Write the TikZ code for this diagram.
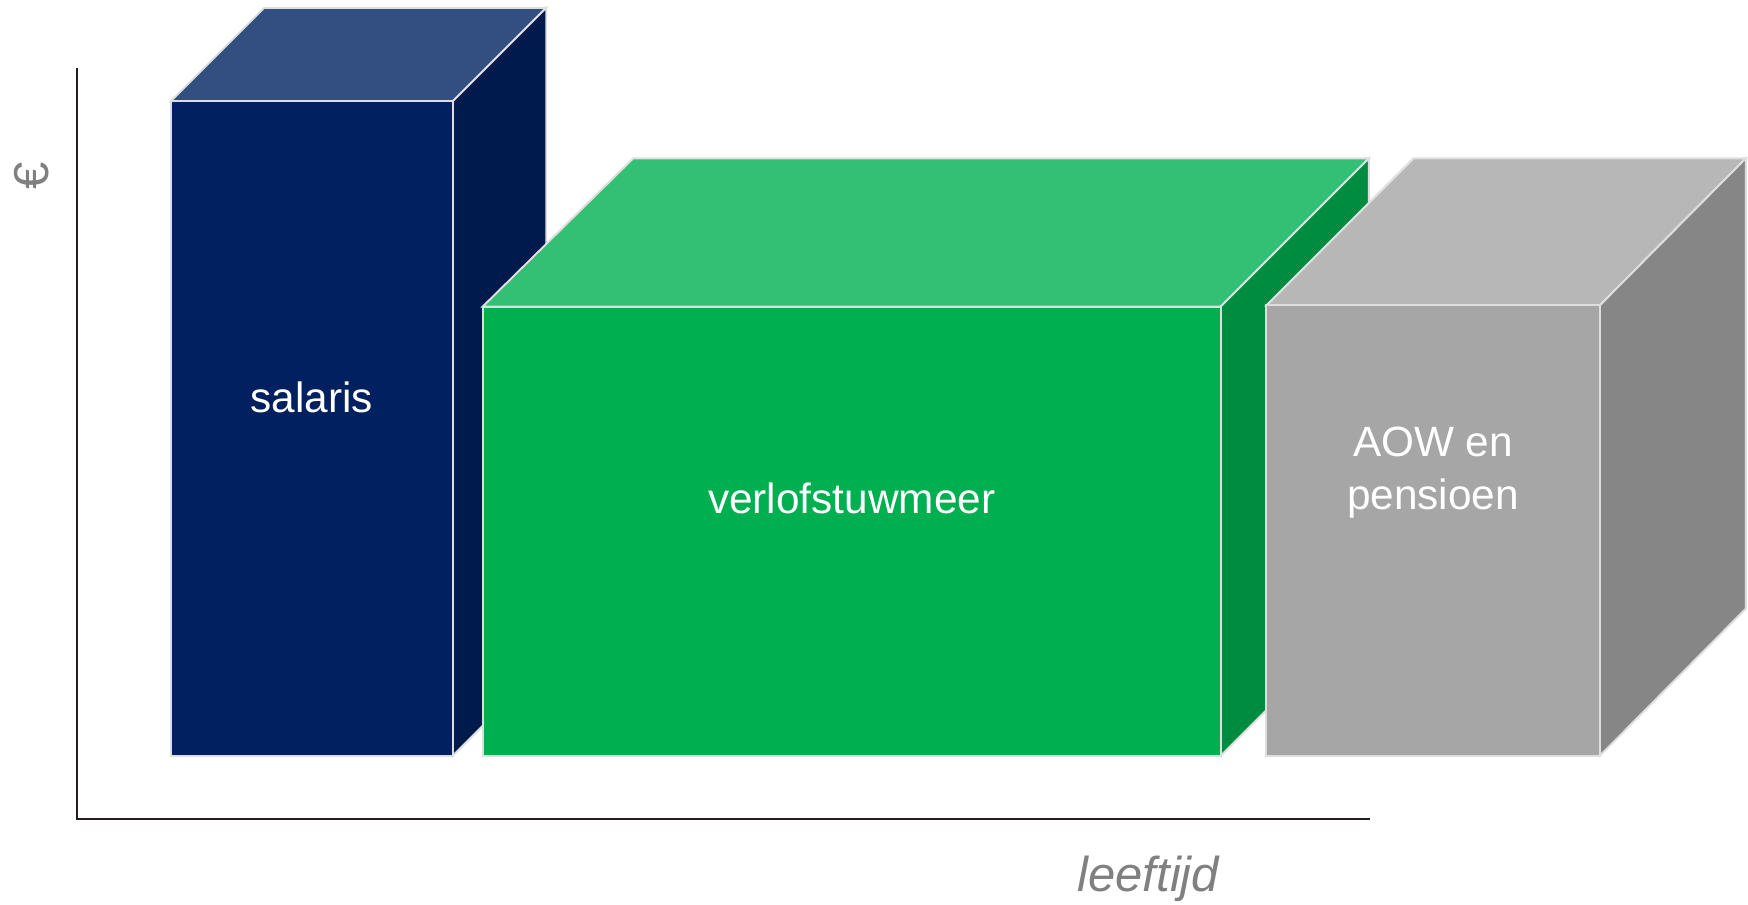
\documentclass[tikz,border=0pt]{standalone}
\usepackage{fontspec}
\setmainfont{Liberation Sans}
\usepackage{tikz}

\definecolor{navyfront}{RGB}{0,32,96}
\definecolor{navytop}{RGB}{51,78,128}
\definecolor{navyside}{RGB}{0,26,77}
\definecolor{greenfront}{RGB}{0,176,80}
\definecolor{greentop}{RGB}{51,192,116}
\definecolor{greenside}{RGB}{0,140,64}
\definecolor{greyfront}{RGB}{166,166,166}
\definecolor{greytop}{RGB}{183,183,183}
\definecolor{greyside}{RGB}{134,134,134}
\definecolor{edgegrey}{RGB}{222,222,222}
\definecolor{axisline}{RGB}{35,31,32}
\definecolor{labelgrey}{RGB}{128,128,128}

\begin{document}
\begin{tikzpicture}[x=0.01cm,y=-0.01cm,
        face/.style={draw=edgegrey,line width=0.5pt,line join=miter},
        boxtext/.style={text=white,align=center,font=\fontsize{10.8}{13.4}\selectfont},
        axislabel/.style={text=labelgrey,font=\fontsize{12.5}{15}\selectfont}]
            \useasboundingbox (0,0) rectangle (1568,811);

            % salaris
            \filldraw[face,fill=navytop] (153,91) -- (237,7) -- (490,7) -- (406,91) -- cycle;
            \filldraw[face,fill=navyside] (406,91) -- (490,7) -- (490,594) -- (406,678) -- cycle;
            \filldraw[face,fill=navyfront] (153,91) rectangle (406,678);
            \node[boxtext] (salaris) at (279.5,356) {salaris};

            % verlofstuwmeer
            \filldraw[face,fill=greentop] (433,275) -- (568,142) -- (1228,142) -- (1095,275) -- cycle;
            \filldraw[face,fill=greenside] (1095,275) -- (1228,142) -- (1228,545) -- (1095,678) -- cycle;
            \filldraw[face,fill=greenfront] (433,275) rectangle (1095,678);
            \node[boxtext] (stuwmeer) at (764,447) {verlofstuwmeer};

            % AOW en pensioen
            \filldraw[face,fill=greytop] (1136,274) -- (1268,142) -- (1566,142) -- (1435,274) -- cycle;
            \filldraw[face,fill=greyside] (1435,274) -- (1566,142) -- (1566,546) -- (1435,678) -- cycle;
            \filldraw[face,fill=greyfront] (1136,274) rectangle (1435,678);
            \node[boxtext] (pensioen) at (1285.5,424) {AOW en\\pensioen};

            % assen
            \coordinate (ytop) at (69,61);
            \coordinate (origin) at (69,735);
            \coordinate (xend) at (1229,735);
            \draw[axisline,line width=0.5pt] (ytop) -- (origin) -- (xend);
            \node[axislabel,rotate=90] (euro) at (28,158) {€};
            \node[axislabel,font=\fontsize{12.5}{15}\selectfont\itshape] (leeftijd) at (1030,788) {leeftijd};
\end{tikzpicture}
\end{document}
